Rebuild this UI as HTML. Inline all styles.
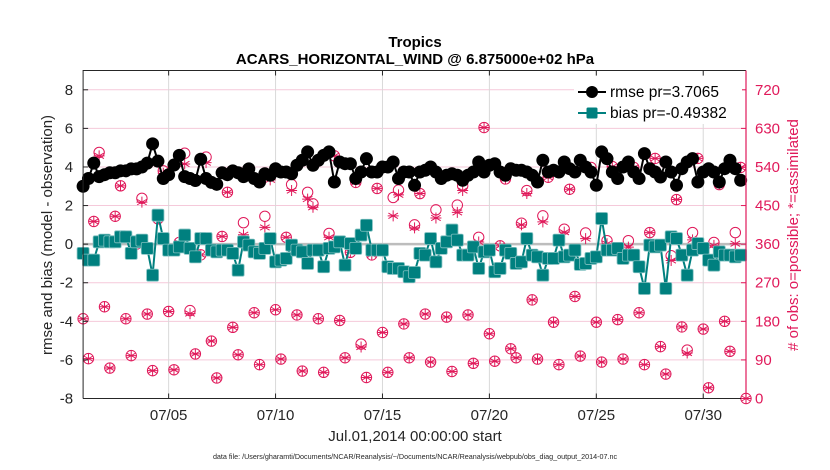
<!DOCTYPE html>
<html><head><meta charset="utf-8"><style>
body{margin:0;background:#fff;}
svg{font-family:"Liberation Sans",Arial,sans-serif;display:block;}
</style></head><body>
<svg id="chart" width="830" height="470" viewBox="0 0 830 470" xmlns="http://www.w3.org/2000/svg">
<text x="415" y="47" text-anchor="middle" font-size="15" font-weight="bold">Tropics</text>
<text x="415" y="64" text-anchor="middle" font-size="15" font-weight="bold">ACARS_HORIZONTAL_WIND @ 6.875000e+02 hPa</text>
<g id="grid"></g>
<g id="marks"></g>
<g id="axes"></g>
<text x="415" y="441" text-anchor="middle" font-size="15" fill="#262626">Jul.01,2014 00:00:00 start</text>
<text x="415" y="459" text-anchor="middle" font-size="7.2" fill="#262626">data file: /Users/gharamti/Documents/NCAR/Reanalysis/~/Documents/NCAR/Reanalysis/webpub/obs_diag_output_2014-07.nc</text>
<text transform="translate(52,235) rotate(-90)" text-anchor="middle" font-size="15" fill="#262626">rmse and bias (model - observation)</text>
<text transform="translate(798,235) rotate(-90)" text-anchor="middle" font-size="15" fill="#e0195a"># of obs: o=possible; *=assimilated</text>
<g>
<rect x="574" y="76" width="168" height="48" fill="#fff"/>
<line x1="578" y1="92" x2="606" y2="92" stroke="#000" stroke-width="2"/>
<circle cx="592" cy="92" r="6" fill="#000"/>
<text x="610" y="97" font-size="15.5">rmse pr=3.7065</text>
<line x1="578" y1="113" x2="606" y2="113" stroke="#00807f" stroke-width="2"/>
<rect x="586.5" y="107.5" width="11" height="11" rx="1.5" fill="#00807f"/>
<text x="610" y="118" font-size="15.5">bias pr=-0.49382</text>
</g>
</svg>
<script>
const rmse=[3.0,3.4,4.2,3.5,3.6,3.7,3.7,3.8,3.8,3.9,3.9,4.0,4.2,5.2,4.3,3.4,3.6,4.1,4.6,3.5,3.4,3.3,4.4,3.4,3.2,3.1,3.7,3.6,3.8,3.7,3.5,3.9,
3.40,3.22,3.65,3.57,3.91,3.74,3.74,3.65,4.09,4.35,4.78,4.09,4.35,4.60,4.78,3.22,4.26,4.17,4.17,3.40,3.74,4.43,3.74,3.74,4.00,4.00,4.26,3.40,3.74,3.74,3.05,
3.74,3.83,4.00,3.74,3.40,3.57,3.65,3.57,3.31,3.57,3.74,4.26,3.74,4.09,4.17,3.74,3.57,3.91,3.83,3.83,3.74,3.57,3.22,4.35,3.74,3.83,3.74,4.26,3.91,3.74,
4.35,4.00,3.74,3.05,4.78,4.43,3.74,3.40,4.00,4.26,3.74,3.40,4.69,3.91,3.74,3.48,4.26,3.74,3.05,3.91,4.26,4.43,3.22,3.74,3.91,3.74,3.22,3.91,4.35,3.91,3.31];
const bias=[-0.48,-0.83,-0.83,0.12,0.21,0.12,0.12,0.38,0.38,-0.48,0.12,0.21,-0.22,-1.61,1.50,0.29,-0.31,-0.31,-0.14,0.47,-0.22,-0.66,0.29,0.29,-0.31,-0.40,-0.31,-0.31,-0.48,-1.35,0.12,-0.05,
-0.40,-0.48,-0.22,0.29,-0.92,-0.83,-0.74,-0.05,-0.31,-0.40,-1.00,-0.31,-0.31,-1.17,-0.22,-0.14,0.12,-1.09,0.03,-0.22,0.47,0.98,-0.31,-0.31,-0.31,-1.17,-1.26,-1.26,-1.43,-1.69,-1.47,
-0.48,-0.57,0.29,-0.92,-0.22,0.12,0.73,0.21,-0.57,-0.57,-0.14,-1.26,-0.40,-0.31,-1.43,-1.26,-0.31,-0.48,-1.00,-0.92,0.29,-0.57,-0.66,-1.61,-0.74,-0.74,0.21,-0.66,-0.57,-0.31,
-1.05,-1.00,-0.74,-0.66,1.33,-0.31,-0.31,-0.22,-0.74,-0.57,-0.57,-1.17,-2.30,-0.05,-0.14,-0.05,-2.30,0.38,0.29,-0.57,-1.61,-0.31,0.03,-0.22,-0.83,-1.09,-0.40,-0.57,-0.57,-0.66,-0.57];
const nPossible=[186,93,413,574,214,71,425,496,186,100,360,467,197,65,419,531,203,67,364,572,205,104,335,563,134,48,378,481,166,102,410,533,
200,79,425,520,207,92,376,499,195,64,481,454,186,61,385,566,182,95,341,504,127,49,335,490,154,61,469,486,174,95,405,478,
197,85,440,512,190,63,451,496,195,82,376,632,151,87,356,512,116,95,409,485,230,92,426,516,178,79,395,488,238,99,386,
539,178,85,368,541,184,92,368,539,200,79,387,560,121,57,333,464,167,113,387,560,162,25,364,499,180,110,387,539,0];
const nUsed=[186,93,413,566,214,71,425,496,186,100,360,458,197,65,419,525,203,67,364,547,198,104,335,550,134,48,378,481,166,102,382,533,
200,79,399,510,207,92,376,485,195,64,465,446,186,61,376,566,182,95,341,504,120,49,335,490,154,61,426,475,174,95,398,478,
197,85,421,512,190,63,434,485,195,82,365,632,151,87,356,512,116,95,405,478,230,92,412,516,178,79,388,488,238,99,373,
532,178,85,361,541,184,92,353,539,200,79,387,560,121,57,322,464,167,106,370,560,162,25,357,499,180,110,361,539,0];
const yTicks=[-8,-6,-4,-2,0,2,4,6,8];
const rTicks=[0,90,180,270,360,450,540,630,720];
const xTickDays=[4,9,14,19,24,29];
const xTickLabels=["07/05","07/10","07/15","07/20","07/25","07/30"];

const NS="http://www.w3.org/2000/svg";
const L=83.1,R=746,T=70.5,B=398.5;
const X=d=>L+(d/31)*(R-L);
const Y=v=>B-(v+8)/17*(B-T);
const YR=n=>Y(n/45-8);
function mk(tag,attrs,parent){const e=document.createElementNS(NS,tag);for(const k in attrs)e.setAttribute(k,attrs[k]);parent.appendChild(e);return e;}
const grid=document.getElementById('grid'),marks=document.getElementById('marks'),axes=document.getElementById('axes');

yTicks.forEach(v=>{if(v===0)return;const e=mk('line',{x1:L,x2:R,y1:Y(v),y2:Y(v),stroke:'#f5c9da','stroke-width':1},grid);

});
xTickDays.forEach(d=>{const e=mk('line',{x1:X(d),x2:X(d),y1:T,y2:B,stroke:'#d9d9d9','stroke-width':1},grid);

});
const z=mk('line',{x1:L,x2:R,y1:Y(0),y2:Y(0),stroke:'#bdbdbd','stroke-width':2.5},grid);



nPossible.forEach((n,i)=>{const c=mk('circle',{cx:X(i*0.25),cy:YR(n),r:5.2,fill:'none',stroke:'#e0195a','stroke-width':1},marks);

});
nUsed.forEach((n,i)=>{const cx=X(i*0.25),cy=YR(n),s=5.5;let d='';
for(let a=0;a<3;a++){const ang=Math.PI/2+a*Math.PI/3;const dx=s*Math.cos(ang),dy=s*Math.sin(ang);d+=`M${cx-dx},${cy-dy}L${cx+dx},${cy+dy}`;}
d+=`M${cx-s},${cy}L${cx+s},${cy}`;
const p=mk('path',{d:d,stroke:'#e0195a','stroke-width':1,fill:'none'},marks);

});

const rl=mk('polyline',{points:rmse.map((v,i)=>X(i*0.25)+','+Y(v)).join(' '),fill:'none',stroke:'#000','stroke-width':2},marks);


rmse.forEach((v,i)=>{const c=mk('circle',{cx:X(i*0.25),cy:Y(v),r:6.5,fill:'#000'},marks);

});
const bl=mk('polyline',{points:bias.map((v,i)=>X(i*0.25)+','+Y(v)).join(' '),fill:'none',stroke:'#00807f','stroke-width':2},marks);


bias.forEach((v,i)=>{const r=mk('rect',{x:X(i*0.25)-6,y:Y(v)-6,width:12,height:12,rx:1.5,fill:'#00807f',stroke:'#7fbfbf','stroke-width':0.8},marks);

});

const fr=mk('path',{d:`M${L},${B}L${L},${T}L${R},${T}M${L},${B}L${R},${B}`,fill:'none',stroke:'#262626','stroke-width':1},axes);


const ra=mk('line',{x1:R,x2:R,y1:T,y2:B,stroke:'#e0195a','stroke-width':1.2},axes);


yTicks.forEach(v=>{mk('line',{x1:L,x2:L+5,y1:Y(v),y2:Y(v),stroke:'#262626'},axes);
const t=mk('text',{x:L-10,y:Y(v)+5,'text-anchor':'end','font-size':15,fill:'#262626'},axes);t.textContent=v;

});
rTicks.forEach(n=>{mk('line',{x1:R-5,x2:R,y1:YR(n),y2:YR(n),stroke:'#e0195a'},axes);
const t=mk('text',{x:R+9,y:YR(n)+5,'font-size':15,fill:'#e0195a'},axes);t.textContent=n;

});
xTickDays.forEach((d,k)=>{mk('line',{x1:X(d),x2:X(d),y1:B,y2:B-5,stroke:'#262626'},axes);mk('line',{x1:X(d),x2:X(d),y1:T,y2:T+5,stroke:'#262626'},axes);
const t=mk('text',{x:X(d),y:420,'text-anchor':'middle','font-size':15,fill:'#262626'},axes);t.textContent=xTickLabels[k];

});
</script>
</body></html>
